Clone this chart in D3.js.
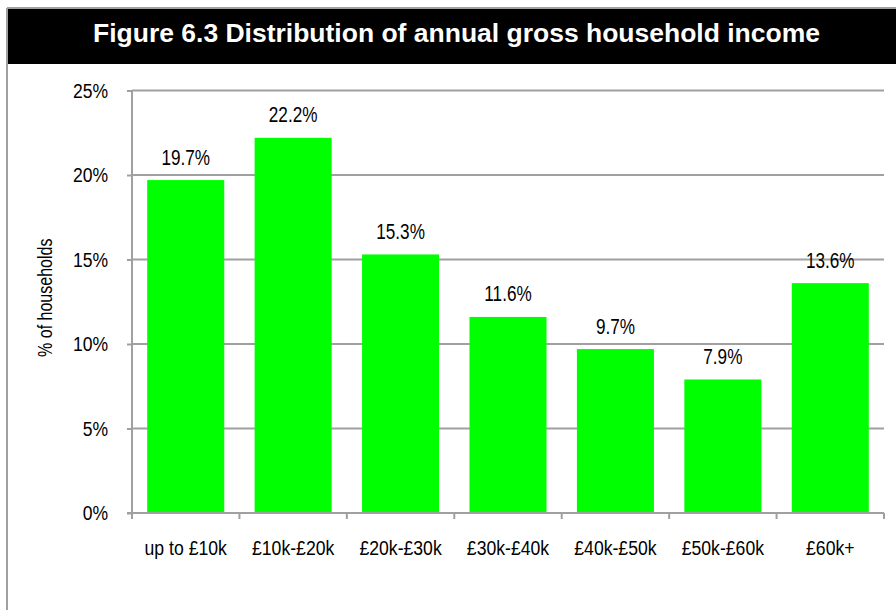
<!DOCTYPE html>
<html>
<head>
<meta charset="utf-8">
<script src="https://cdn.jsdelivr.net/npm/d3@7"></script>
<style>
  html, body { margin: 0; padding: 0; background: #fff; }
  svg { display: block; }
  text { font-family: "Liberation Sans", Arial, sans-serif; }
</style>
</head>
<body>
<svg id="chart" width="896" height="610"></svg>
<script>
// Household income bands and share of households in each
const categories = ["up to £10k", "£10k-£20k", "£20k-£30k", "£30k-£40k", "£40k-£50k", "£50k-£60k", "£60k+"];
const shares = [19.7, 22.2, 15.3, 11.6, 9.7, 7.9, 13.6];
const yTicks = [0, 5, 10, 15, 20, 25];
const title = "Figure 6.3 Distribution of annual gross household income";
const yTitle = "% of households";

const svg = d3.select("#chart");
const W = 896, H = 610;
const axisGrey = "#a0a0a0";

// condensed label: a text squeezed horizontally around its anchor point
function narrowText(parent, px, py, str, size, sx, anchor, rotate) {
  const g = parent.append("g")
    .attr("transform", `translate(${px},${py})` + (rotate ? ` rotate(${rotate})` : "") + ` scale(${sx},1)`);
  g.append("text").attr("text-anchor", anchor).attr("font-size", size).attr("fill", "#000").text(str);
  return g;
}

// frame: top and left rules
svg.append("line").attr("x1", 7).attr("x2", W).attr("y1", 8).attr("y2", 8)
  .attr("stroke", axisGrey).attr("stroke-width", 2);
svg.append("line").attr("x1", 7).attr("x2", 7).attr("y1", 8).attr("y2", H)
  .attr("stroke", axisGrey).attr("stroke-width", 2);

// title band
svg.append("rect").attr("x", 8).attr("y", 9).attr("width", W - 8).attr("height", 55).attr("fill", "#000");
svg.append("text").attr("x", 93).attr("y", 42)
  .attr("fill", "#fff").attr("font-weight", "bold").attr("font-size", 25.5)
  .attr("textLength", 727).attr("lengthAdjust", "spacingAndGlyphs").text(title);

const plot = { left: 132, right: 884, top: 90.5, bottom: 513 };

const x = d3.scaleBand().domain(categories).range([plot.left, plot.right]).paddingInner(0.283).paddingOuter(0.1415);
const y = d3.scaleLinear().domain([0, 25]).range([plot.bottom, plot.top]);

// horizontal gridlines
svg.append("g").selectAll("line").data(yTicks.filter(t => t > 0)).join("line")
  .attr("x1", plot.left).attr("x2", plot.right)
  .attr("y1", d => y(d)).attr("y2", d => y(d))
  .attr("stroke", axisGrey).attr("stroke-width", 2);

// bars
svg.append("g").selectAll("rect").data(shares).join("rect")
  .attr("x", (d, i) => x(categories[i]))
  .attr("width", x.bandwidth())
  .attr("y", d => y(d))
  .attr("height", d => y(0) - y(d))
  .attr("fill", "#00ff00");

// value labels
const gv = svg.append("g");
shares.forEach((d, i) => {
  narrowText(gv, x(categories[i]) + x.bandwidth() / 2, y(d) - 15.5, d.toFixed(1) + "%", 22, 0.78, "middle");
});

// y axis (line and ticks from d3, labels condensed)
const yAxis = d3.axisLeft(y).tickValues(yTicks).tickFormat("").tickSize(5);
const gy = svg.append("g").attr("transform", `translate(${plot.left},0)`).call(yAxis);
gy.select(".domain").attr("stroke", axisGrey).attr("stroke-width", 2).attr("d", `M0,${plot.top}V${plot.bottom + 6}`);
gy.selectAll(".tick line").attr("stroke", axisGrey).attr("stroke-width", 2);
const gyl = svg.append("g");
yTicks.forEach(t => narrowText(gyl, 108, y(t) + 7, t + "%", 19.5, 0.9, "end"));

// x axis with boundary ticks between bands
const xAxis = d3.axisBottom(x).tickSize(0).tickFormat("");
const gx = svg.append("g").attr("transform", `translate(0,${plot.bottom})`).call(xAxis);
gx.select(".domain").attr("stroke", axisGrey).attr("stroke-width", 2).attr("d", `M${plot.left - 5},0H${plot.right}`);
const step = x.step();
gx.append("g").selectAll("line").data(d3.range(categories.length + 1)).join("line")
  .attr("x1", i => plot.left + i * step).attr("x2", i => plot.left + i * step)
  .attr("y1", 0).attr("y2", 6).attr("stroke", axisGrey).attr("stroke-width", 2);
const gxl = svg.append("g");
categories.forEach(c => narrowText(gxl, x(c) + x.bandwidth() / 2, 555, c, 21, 0.84, "middle"));

// y axis title
narrowText(svg, 52, (plot.top + plot.bottom) / 2 - 4, yTitle, 20, 0.8, "middle", -90);
</script>
</body>
</html>
